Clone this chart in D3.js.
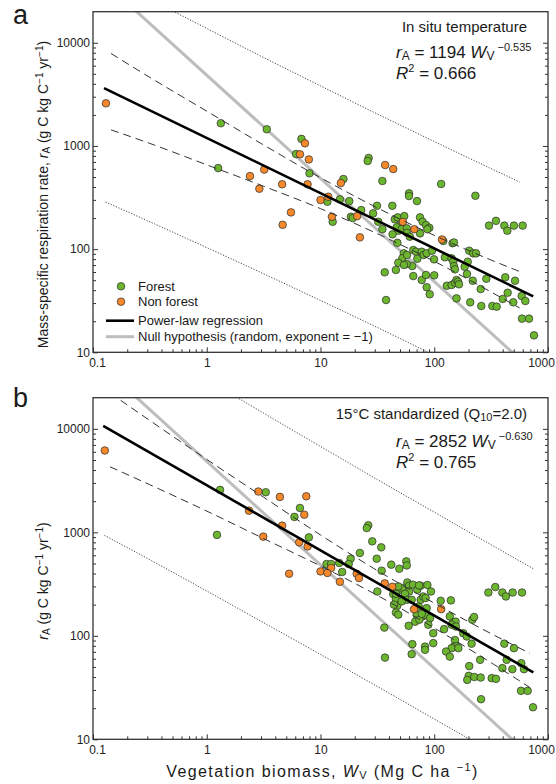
<!DOCTYPE html>
<html><head><meta charset="utf-8">
<script src="https://cdn.jsdelivr.net/npm/d3@7"></script>
<style>
body{margin:0;background:#fff;}
svg{display:block;font-family:"Liberation Sans",Arial,Helvetica,sans-serif;}
</style></head><body>
<svg id="c" width="556" height="784"></svg>
<script>
// ---------- data (W in Mg C ha-1, r in g C kg C-1 yr-1) ----------
const forestA = [[1.33,1660],[3.37,1450],[1.26,610],[6.8,1170],[6.1,835],[8.0,543],[15.9,478],[26.5,765],[26,715],[35,457],[115,428],[60,347],[60,327],[70.5,292],[230,329],
[11.5,288],[14.8,304],[17.9,292],[22.8,239],[31.4,263],[42.8,263],[29,222],[18.5,206],[19.2,200],[12.8,184],[32.2,184],[35,156],[45,195],[47.7,203],[54.5,209],[50.7,171],[48.3,151],[46.8,163],[51.7,156],[43,139],[47.4,115],[57.3,159],[57.6,144],[61,132],[75,203],[79,184],[84.6,171],[90.5,161],[87,156],[75,142],[120,120],[145,114],[149,116],
[54,91],[52.4,81.5],[57.6,87.7],[65.4,98],[69,94.4],[77.6,94.4],[80.8,87.7],[85.8,91],[95.5,96.5],[99.5,79.6],[71,80.7],[64,68.5],[57.3,71.7],[48.3,73.8],[54.2,70.2],[124,83.3],[142,81.5],[147,75.5],[149,68.5],[152,63.7],[203,96.5],[220,91],[233,91],[197,75.5],[185,67.5],[194,57.4],
[36.7,59.6],[46,62.8],[65.4,54.8],[77.6,50.2],[84.6,56.1],[100,55.7],[85.8,42.7],[91.2,36.5],[129,44.2],[142,44.9],[152,47.2],[157,50.2],[162,48.3],[165,45.6],[157,33.3],[218,49.4],[256,41],[287,51.6],[207,30.5],[259,28.1],[324,28.1],[354,27.7],
[303,169],[349,188],[413,169],[439,151],[502,169],[599,169],[421,53.3],[513,49.4],[400,32.9],[442,37.8],[495,30.5],[587,35.1],[632,31.4],[591,21.2],[681,21.2],[753,14.6],[37.7,32.1]];
const nonForestA = [[0.13,2590],[2.4,510],[3.2,590],[2.9,385],[4.6,425],[7.3,1060],[6.6,830],[7.9,740],[15.1,437],[7.7,425],[37,653],[43.6,597],[11.7,322],[10,299],[5.5,227],[4.65,172],[21,209],[12.6,206],[22.2,130],[53,184],[66.8,156],[117,124]];

const forestB = [[1.31,2570],[1.23,944],[3.3,2440],[6.6,1720],[5.9,1410],[7.9,894],[26.3,1170],[25.5,1100],[28.5,818],[34.2,716],[22.2,632],[31.2,556],[18.4,556],[17.7,494],[14.6,506],[15.5,414],[11.3,494],[12.4,494],[41.9,487],[49.3,445],[56.8,524],[57.3,479],[34.5,426],[31.6,268],[36.4,120],[64.2,83.1],[63.3,66.5],[36.9,61.6],
[43.6,253],[46,226],[47.3,195],[50,279],[52.8,290],[58,328],[60,305],[65,312],[71,279],[76,305],[60,268],[55.3,255],[57.3,223],[63.3,223],[46,168],[48.3,160],[70,160],[73,192],[76,223],[68,137],[59.6,125],[80,240],[79,154],[87,310],[93.6,268],[84,232],[85.8,185],[83,160],[91.8,148],[88.7,128],[51.7,215],[44.3,200],[74,143],[77.6,163],[48.3,300],[73.5,307],[46,255],
[98,106],[98,85],[122,116],[137,154],[146,134],[154,137],[142,128],[155,123],[152,91],[149,79],[157,79],[142,76],[127,70.5],[137,63],[163,76],[83,78.7],[83,73.2],[180,106],[193,98.5],[213,84],[216,143],[224,152],[203,51],[201,41],[225,40],[256,39.5],[195,37.5],[253,58.6],[258,24.4],[320,39],[349,38.4],[299,262],[344,296],[397,262],[427,240],[489,262],[591,262],[413,84],[502,76],[433,58.6],[397,48.7],[486,47.6],[582,54.4],[615,47.6],[579,29.4],[663,29.4],[738,20.4],[114,218],[140,220]];
const nonForestB = [[0.127,6180],[2.35,1620],[3.14,908],[2.84,2480],[4.4,2200],[7.5,2230],[7.2,1480],[4.6,1160],[6.5,800],[7.7,731],[12.4,452],[10,419],[11.5,405],[5.3,398],[20.8,398],[21.8,362],[14.8,333],[36.7,321],[42.8,298],[66.4,181],[115,181]];

// regression (power law) fits as printed in the panels
const regA = {coef:1194, exp:-0.535, W:[0.125, 742]};
const regB = {coef:2852, exp:-0.630, W:[0.123, 743]};
// null hypothesis lines (exponent = -1)
const nullA = {coef:4850, exp:-1, W:[0.2, 700]};
const nullB = {coef:4850, exp:-1, W:[0.2, 700]};

// confidence band (dashed)
const bandA_W  = [0.144,0.316,1,3.16,10,31.6,100,316,562];
const bandA_up = [7870,4618,2173,1022,492,251,136,78.4,60.7];
const bandA_lo = [1432,1058,656,407,247,141,76.2,38.4,26.9];
const bandB_W  = [0.141,0.316,1,3.16,10,31.6,100,316,692];
const bandB_up = [22260,12030,5072,2188,944,427,207,105,67.8];
const bandB_lo = [4301,2884,1604,871,473,246,119,55,31.7];
// prediction band (dotted)
const predA_W  = [0.129,0.316,1,3.16,10,31.6,100,316,562];
const predA_up = [44600,26500,13770,7200,3820,2040,1104,603,448];
const predA_lo = [286,184,103.5,57.7,31.8,17.4,9.35,5.0,3.6];
const predB_W  = [0.126,0.316,1,3.16,10,31.6,100,316,741];
const predB_up = [118300,63800,30000,14190,6761,3236,1567,759,446];
const predB_lo = [935,543,271,134,66.1,32.4,15.7,7.6,4.4];

const xTicks = [0.1,1,10,100,1000];
const xTickLabels = ["0.1","1","10","100","1000"];
const yTicks = [10,100,1000,10000];
const yTickLabels = ["10","100","1000","10000"];

const COL_FOREST = "#6cb52e", COL_NON = "#f4882a";

// ---------- drawing ----------
const svg = d3.select("#c");
const L = 93, R = 548;
const x = d3.scaleLog().domain([0.1,1000]).range([L,R]);
function minors(lo, hi){ const m=[]; for(let d=lo; d<hi; d*=10) for(let k=2;k<=9;k++) m.push(d*k); return m; }
const xMinor = minors(0.1,1000);
const yMinor = minors(10,10000);

function panel(id, top, bottom, forest, nonForest, reg, nul, bW, bUp, bLo, pW, pUp, pLo){
  const y = d3.scaleLog().domain([10,20000]).range([bottom, top]);
  const g = svg.append("g");
  const clipId = "clip"+id;
  svg.append("clipPath").attr("id",clipId).append("rect").attr("x",L).attr("y",top).attr("width",R-L).attr("height",bottom-top);
  const lines = g.append("g").attr("clip-path",`url(#${clipId})`);
  const ln = d3.line().x(d=>x(d[0])).y(d=>y(d[1])).curve(d3.curveMonotoneX);
  const zip = (a,b)=>a.map((v,i)=>[v,b[i]]);
  // dotted prediction
  [pUp,pLo].forEach(arr=>lines.append("path").attr("d",ln(zip(pW,arr))).attr("fill","none").attr("stroke","#333").attr("stroke-width",0.9).attr("stroke-dasharray","1.2,1.6"));
  // null
  lines.append("path").attr("d",d3.line().x(d=>x(d)).y(d=>y(nul.coef*Math.pow(d,nul.exp)))(nul.W)).attr("stroke","#bdbdbd").attr("stroke-width",3).attr("fill","none");
  // points
  const pts = g.append("g");
  pts.selectAll("circle.f").data(forest).join("circle").attr("cx",d=>x(d[0])).attr("cy",d=>y(d[1])).attr("r",3.8).attr("fill",COL_FOREST).attr("stroke","#2b2b2b").attr("stroke-width",0.7);
  pts.selectAll("circle.n").data(nonForest).join("circle").attr("cx",d=>x(d[0])).attr("cy",d=>y(d[1])).attr("r",3.8).attr("fill",COL_NON).attr("stroke","#2b2b2b").attr("stroke-width",0.7);
  const lines2 = g.append("g").attr("clip-path",`url(#${clipId})`);
  // dashed band
  [bUp,bLo].forEach(arr=>lines2.append("path").attr("d",ln(zip(bW,arr))).attr("fill","none").attr("stroke","#333").attr("stroke-width",1).attr("stroke-dasharray","8,5"));
  // regression
  lines2.append("path").attr("d",d3.line().x(d=>x(d)).y(d=>y(reg.coef*Math.pow(d,reg.exp)))(reg.W)).attr("stroke","#000").attr("stroke-width",2.6).attr("fill","none");

  // axes
  const ax = g.append("g").attr("font-size",12).attr("fill","#222");
  const style = s => { s.select(".domain").remove(); s.selectAll("line").attr("stroke","#333").attr("stroke-width",1); s.selectAll("text").attr("fill","#222").attr("font-family",'"Liberation Sans",Arial,sans-serif').attr("font-size",12); };
  const xa = ax.append("g").attr("transform",`translate(0,${bottom})`).call(d3.axisBottom(x).tickValues(xTicks).tickFormat((d,i)=>xTickLabels[i]).tickSize(-5).tickSizeOuter(0).tickPadding(6)).call(style);
  // keep the edge labels inside the page, as in the original
  xa.selectAll("text").attr("dx",(d,i)=> i===0 ? 4 : (i===xTicks.length-1 ? -7 : 0));
  ax.append("g").attr("transform",`translate(0,${bottom})`).call(d3.axisBottom(x).tickValues(xMinor).tickFormat("").tickSize(-3).tickSizeOuter(0)).call(style);
  ax.append("g").attr("transform",`translate(${L},0)`).call(d3.axisLeft(y).tickValues(yTicks).tickFormat((d,i)=>yTickLabels[i]).tickSize(-5).tickSizeOuter(0).tickPadding(3)).call(style);
  ax.append("g").attr("transform",`translate(${L},0)`).call(d3.axisLeft(y).tickValues(yMinor).tickFormat("").tickSize(-3).tickSizeOuter(0)).call(style);
  ax.append("g").attr("transform",`translate(${R},0)`).call(d3.axisRight(y).tickValues(yTicks).tickFormat("").tickSize(-5).tickSizeOuter(0)).call(style);
  ax.append("g").attr("transform",`translate(${R},0)`).call(d3.axisRight(y).tickValues(yMinor).tickFormat("").tickSize(-3).tickSizeOuter(0)).call(style);
  g.append("rect").attr("x",L).attr("y",top).attr("width",R-L).attr("height",bottom-top).attr("fill","none").attr("stroke","#333").attr("stroke-width",1.3);
  return g;
}

const gA = panel("a", 11.7, 352.3, forestA, nonForestA, regA, nullA, bandA_W, bandA_up, bandA_lo, predA_W, predA_up, predA_lo);
const gB = panel("b", 397.7, 739.3, forestB, nonForestB, regB, nullB, bandB_W, bandB_up, bandB_lo, predB_W, predB_up, predB_lo);

// ---------- text ----------
const T = (sel)=>sel.attr("fill","#1a1a1a");
svg.append("text").attr("x",13).attr("y",24).attr("font-size",27).text("a").call(T);
svg.append("text").attr("x",13).attr("y",406.5).attr("font-size",27).text("b").call(T);

function eq(yBase, coef, expo, r2){
  const t = svg.append("text").attr("x",396).attr("y",yBase).attr("font-size",17).call(T);
  t.append("tspan").attr("font-style","italic").text("r");
  t.append("tspan").attr("font-size",12).attr("dy",1.5).text("A");
  t.append("tspan").attr("dy",-1.5).text(" = "+coef+" ");
  t.append("tspan").attr("font-style","italic").text("W");
  t.append("tspan").attr("font-size",12).attr("dy",1.5).text("V");
  t.append("tspan").attr("font-size",11).attr("dy",-8.5).text(" \u2212"+expo);
  const t2 = svg.append("text").attr("x",396).attr("y",yBase+21).attr("font-size",17).call(T);
  t2.append("tspan").attr("font-style","italic").text("R");
  t2.append("tspan").attr("font-size",11).attr("dy",-7).text("2");
  t2.append("tspan").attr("dy",7).text(" = "+r2);
}
svg.append("text").attr("x",527).attr("y",32).attr("text-anchor","end").attr("font-size",15).text("In situ temperature").call(T);
eq(58, "1194", "0.535", "0.666");
const tb = svg.append("text").attr("x",527).attr("y",419).attr("text-anchor","end").attr("font-size",15).call(T);
tb.append("tspan").text("15\u00B0C standardized (Q");
tb.append("tspan").attr("font-size",11).attr("dy",2).text("10");
tb.append("tspan").attr("dy",-2).text("=2.0)");
eq(447, "2852", "0.630", "0.765");

// y labels
function yLabel(cy, prefix){
  const t = svg.append("text").attr("transform",`translate(48,${cy}) rotate(-90)`).attr("text-anchor","middle").attr("font-size",14).call(T);
  if(prefix) t.append("tspan").text(prefix);
  t.append("tspan").attr("font-style","italic").text("r");
  t.append("tspan").attr("font-size",10).attr("dy",1.5).text("A");
  t.append("tspan").attr("dy",-1.5).text(" (g C kg C");
  t.append("tspan").attr("font-size",10).attr("dy",-5).text("\u22121");
  t.append("tspan").attr("dy",5).text(" yr");
  t.append("tspan").attr("font-size",10).attr("dy",-5).text("\u22121");
  t.append("tspan").attr("dy",5).text(")");
}
yLabel(194.5, "Mass-specific respiration rate, ");
yLabel(581, null);

// x label
const xl = svg.append("text").attr("x",322.5).attr("y",777).attr("text-anchor","middle").attr("font-size",16).attr("letter-spacing",1.4).call(T);
xl.append("tspan").text("Vegetation biomass, ");
xl.append("tspan").attr("font-style","italic").text("W");
xl.append("tspan").attr("font-size",11).attr("dy",1.5).text("V");
xl.append("tspan").attr("dy",-1.5).text(" (Mg C ha ");
xl.append("tspan").attr("font-size",11).attr("dy",-6).text("\u22121");
xl.append("tspan").attr("dy",6).text(")");

// legend (panel a)
const legItems = [{lab:"Forest",col:COL_FOREST,ty:"pt"},{lab:"Non forest",col:COL_NON,ty:"pt"},{lab:"Power-law regression",col:"#000",ty:"ln",w:2.6},{lab:"Null hypothesis (random, exponent = \u22121)",col:"#bdbdbd",ty:"ln",w:3}];
const legY = [286.3,301.7,320.7,336.7];
const leg = svg.append("g");
legItems.forEach((it,i)=>{
  if(it.ty==="pt") leg.append("circle").attr("cx",121).attr("cy",legY[i]).attr("r",3.8).attr("fill",it.col).attr("stroke","#2b2b2b").attr("stroke-width",0.7);
  else leg.append("line").attr("x1",106).attr("x2",134).attr("y1",legY[i]).attr("y2",legY[i]).attr("stroke",it.col).attr("stroke-width",it.w);
  leg.append("text").attr("x",138).attr("y",legY[i]+4.6).attr("font-size",13).text(it.lab).call(T);
});
</script>
</body></html>
